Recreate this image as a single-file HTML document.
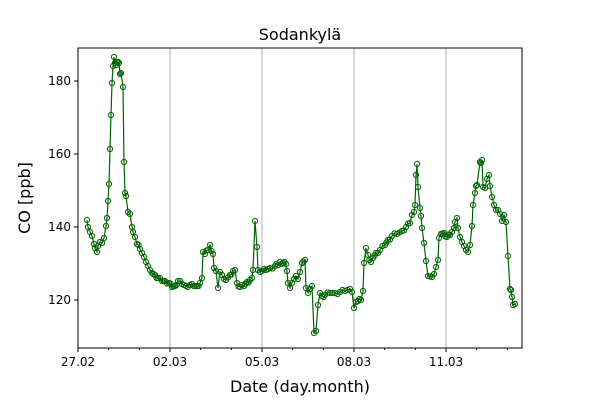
<!DOCTYPE html>
<html><head><meta charset="utf-8"><style>body{margin:0;background:#fff}svg{display:block}text{font-family:"DejaVu Sans","Liberation Sans",sans-serif}</style></head>
<body>
<svg id="s" width="600" height="400" xmlns="http://www.w3.org/2000/svg">
<rect width="600" height="400" fill="#fff"/>
<g stroke="#b0b0b0" stroke-width="1">
<line x1="170" y1="48" x2="170" y2="348"/><line x1="262" y1="48" x2="262" y2="348"/><line x1="354" y1="48" x2="354" y2="348"/><line x1="446" y1="48" x2="446" y2="348"/>
</g>
<g id="d"></g>
<rect x="78" y="48" width="444" height="300" fill="none" stroke="#000" stroke-width="1"/>
<g id="t" stroke="#000"></g>
<g font-size="12" fill="#000" text-anchor="end">
<text x="71" y="85">180</text><text x="71" y="158">160</text><text x="71" y="231">140</text><text x="71" y="304">120</text>
</g>
<g font-size="12" fill="#000" text-anchor="middle">
<text x="78" y="366">27.02</text><text x="170" y="366">02.03</text><text x="262" y="366">05.03</text><text x="354" y="366">08.03</text><text x="446" y="366">11.03</text>
</g>
<text x="300" y="40" font-size="16" text-anchor="middle">Sodankylä</text>
<text x="300" y="392" font-size="16" text-anchor="middle">Date (day.month)</text>
<text transform="translate(30,198) rotate(-90)" font-size="16" text-anchor="middle">CO [ppb]</text>
</svg>
<script>
var P=[[87,220],[88,227],[90,232],[92,236],[94,244],[95,248],[97,252],[98,246],[100,242],[102,243],[104,238],[106,226],[107,218],[108,201],[109,184],[110,149],[111,115],[112,83],[113,66],[114,57],[115,63],[116,65],[117,62],[118,62],[119,63],[120,74],[121,73],[123,87],[124,162],[125,193],[126,196],[128,212],[130,214],[132,227],[133,232],[135,237],[137,244],[140,249],[142,253],[144,257],[146,262],[148,266],[150,270],[152,273],[155,275],[158,278],[162,281],[165,281],[169,283],[172,287],[175,286],[178,281],[182,284],[186,286],[190,285],[194,286],[197,286],[200,283],[202,278],[203,252],[205,254],[208,250],[210,245],[213,254],[214,268],[216,271],[218,288],[220,272],[222,275],[224,279],[226,280],[230,275],[233,271],[235,270],[237,283],[240,287],[244,286],[247,282],[250,280],[252,278],[253,270],[255,221],[257,247],[258,270],[262,271],[266,270],[270,268],[275,266],[278,265],[280,262],[283,263],[286,264],[287,271],[288,283],[290,288],[292,283],[294,279],[296,276],[298,279],[300,272],[302,263],[305,260],[306,288],[308,293],[310,289],[312,286],[314,333],[316,331],[318,305],[320,293],[322,296],[325,295],[330,293],[335,293],[340,292],[345,291],[350,289],[352,292],[354,308],[356,302],[358,301],[361,300],[363,291],[364,263],[366,248],[368,255],[371,262],[373,258],[376,253],[380,250],[385,245],[388,240],[392,236],[397,234],[402,231],[406,227],[410,223],[412,215],[414,212],[415,205],[416,175],[417,164],[418,187],[420,208],[421,216],[422,228],[424,243],[426,261],[428,276],[432,277],[434,274],[436,267],[438,260],[439,238],[441,234],[444,233],[447,237],[450,235],[452,232],[454,228],[455,222],[457,218],[458,228],[460,237],[462,242],[464,246],[466,250],[468,252],[470,245],[472,226],[473,205],[475,193],[476,186],[477,185],[480,162],[481,163],[482,160],[483,187],[485,188],[487,179],[489,175],[490,186],[492,197],[494,205],[496,210],[498,210],[500,214],[502,221],[504,215],[506,222],[508,256],[510,289],[511,290],[512,297],[513,305],[515,304]];
var Q=[];for(var i=0;i<P.length;i++){Q.push(P[i]);if(i<P.length-1){var a=P[i],b=P[i+1];if(b[0]-a[0]>=3&&Math.abs(b[1]-a[1])<15){Q.push([(a[0]+b[0])/2,(a[1]+b[1])/2+((i%3)-1)*1.5]);}}}
var ns="http://www.w3.org/2000/svg",g=document.getElementById("d");
var pl=document.createElementNS(ns,"polyline");pl.setAttribute("points",Q.map(function(p){return p.join(",")}).join(" "));pl.setAttribute("fill","none");pl.setAttribute("stroke","#006400");pl.setAttribute("stroke-width","1.2");g.appendChild(pl);
Q.forEach(function(p){var c=document.createElementNS(ns,"circle");c.setAttribute("cx",p[0]);c.setAttribute("cy",p[1]);c.setAttribute("r","2.6");c.setAttribute("fill","none");c.setAttribute("stroke","#006400");c.setAttribute("stroke-width","1");g.appendChild(c);});
var t=document.getElementById("t"),s="";
for(var k=0;k<=14;k++){var x=78+k*92/3;var L=(k%3==0)?4:2;s+='<line x1="'+x+'" y1="348" x2="'+x+'" y2="'+(348+L)+'"/>';}
[81,154,227,300].forEach(function(y){s+='<line x1="74" y1="'+y+'" x2="78" y2="'+y+'"/>';});
t.innerHTML=s;
</script>
</body></html>
